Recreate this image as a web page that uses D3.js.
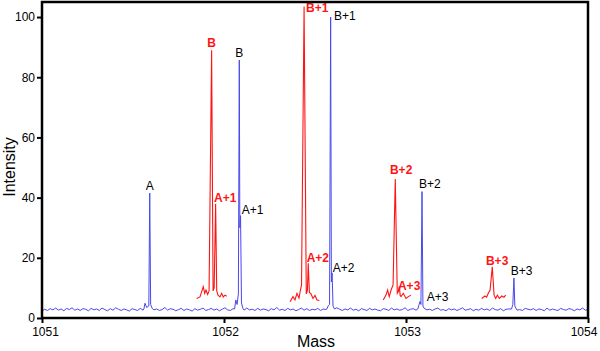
<!DOCTYPE html>
<html>
<head>
<meta charset="utf-8">
<script src="https://cdn.jsdelivr.net/npm/d3@7"></script>
<style>
  body { margin: 0; background: #fff; }
  svg { display: block; font-family: "Liberation Sans", Arial, sans-serif; }
</style>
</head>
<body>
<div id="chart"></div>
<script>
// blue trace: baseline noise, one value every 0.015 from 1051 to 1054
const noiseStart = 1051;
const noiseStep = 0.015;
const blueNoise = [
  2.3,2.9,2.5,3.1,2.7,3.3,2.6,3.0,2.4,3.2,
  2.8,3.4,2.6,3.0,2.5,3.1,2.9,2.4,3.2,2.7,
  3.0,2.5,3.3,2.8,2.4,3.1,2.6,3.4,2.9,2.5,
  3.0,2.7,2.3,3.1,2.8,2.5,3.2,2.6,2.9,2.4,
  3.3,2.7,3.0,2.5,2.8,3.5,2.6,3.1,2.9,2.4,
  2.8,3.2,2.5,3.0,2.7,2.3,3.1,2.6,2.9,3.3,
  2.5,2.8,3.2,2.6,3.0,2.4,2.9,3.4,2.7,2.5,
  3.1,2.8,2.4,3.0,2.6,3.3,2.7,2.9,2.5,3.2,
  2.6,3.0,2.8,2.4,3.1,2.7,3.5,2.6,2.9,2.5,
  3.2,2.7,3.0,2.4,2.8,3.3,2.6,3.1,2.5,2.9,
  2.7,3.2,2.5,3.0,2.8,2.4,3.1,2.6,3.4,2.9,
  2.5,3.0,2.7,3.3,2.6,2.9,2.4,3.1,2.8,2.5,
  3.2,2.7,3.0,2.6,2.4,3.1,2.9,2.5,3.3,2.7,
  3.0,2.6,2.8,3.4,2.5,2.9,3.1,2.6,2.8,2.4,
  3.2,2.7,2.9,2.5,3.0,3.3,2.6,2.8,2.4,3.1,
  2.7,3.0,2.5,2.9,3.4,2.6,2.8,3.1,2.4,2.9,
  2.6,3.2,2.7,3.0,2.5,3.3,2.8,2.6,3.1,2.4,
  2.9,3.0,2.7,3.4,2.6,2.8,2.5,3.2,2.9,2.7,
  3.1,2.5,3.0,2.8,2.4,3.3,2.6,3.0,2.7,2.5,
  3.2,2.8,2.6,3.1,2.9,2.4,3.0,2.7,3.3,2.6,
  2.8
];

// blue peaks [mass, intensity]
const bluePeakA = [[1051.560,3.0],[1051.566,4.9],[1051.575,3.5],[1051.587,4.0],[1051.592,41.5],[1051.597,4.5],[1051.605,3.2]];
const bluePeakB = [[1052.058,3.0],[1052.065,6.0],[1052.072,4.5],[1052.079,8.0],[1052.084,85.7],[1052.087,30],[1052.091,34],[1052.096,5.0],[1052.104,3.2]];
const bluePeakB1 = [[1052.565,3.0],[1052.574,4.2],[1052.580,4.5],[1052.586,100],[1052.590,12],[1052.594,15],[1052.599,4.0],[1052.607,3.0]];
const bluePeakB2 = [[1053.065,3.0],[1053.072,4.5],[1053.077,5.5],[1053.082,4.5],[1053.088,42],[1053.093,4.0],[1053.100,3.2]];
const bluePeakB3 = [[1053.580,3.0],[1053.587,4.5],[1053.593,13.3],[1053.598,4.0],[1053.606,3.0]];

// red trace: four short segments [mass, intensity]
const redSeg1 = [[1051.850,6.5],[1051.868,7],[1051.877,8.7],[1051.886,10.4],[1051.894,8.2],[1051.901,9.3],[1051.910,7.8],[1051.918,9],[1051.932,89],[1051.940,9],[1051.946,10],[1051.954,38],[1051.960,9],[1051.967,7.6],[1051.978,7],[1051.987,8.2],[1051.996,7],[1052.005,7.6],[1052.015,7.2]];
const redSeg2 = [[1052.363,5.4],[1052.379,7.1],[1052.390,6],[1052.401,8.2],[1052.412,6.6],[1052.420,9.3],[1052.426,11],[1052.440,103.5],[1052.452,8],[1052.458,9],[1052.463,18.2],[1052.469,8.5],[1052.478,8],[1052.489,6.5],[1052.500,7.5],[1052.511,6],[1052.524,5.8]];
const redSeg3 = [[1052.875,6],[1052.890,7.6],[1052.899,9.3],[1052.908,7.1],[1052.918,9.3],[1052.929,11],[1052.941,46.2],[1052.952,8.2],[1052.958,8.8],[1052.963,10.5],[1052.968,7.5],[1052.973,7.1],[1052.985,8.2],[1053.000,6.5],[1053.013,7.1],[1053.027,7.6]];
const redSeg4 = [[1053.416,6.5],[1053.434,7.3],[1053.443,6.9],[1053.452,8.2],[1053.462,9.3],[1053.474,17],[1053.484,7.6],[1053.493,6.5],[1053.502,7.6],[1053.513,6.5],[1053.526,7.3],[1053.538,6.9],[1053.548,7.6]];

// peak labels
const blueLabelNames = ["A","B","A+1","B+1","A+2","B+2","A+3","B+3"];
const blueLabelMass = [1051.592,1052.084,1052.091,1052.586,1052.594,1053.088,1053.077,1053.593];
const blueLabelHeight = [41.5,85.7,34,100,15,42,5.5,13.3];
const redLabelNames = ["B","A+1","B+1","A+2","B+2","A+3","B+3"];
const redLabelMass = [1051.932,1051.954,1052.440,1052.463,1052.941,1052.963,1053.474];
const redLabelHeight = [89,38,103.5,18.2,46.2,10.5,17];

const xTicks = [1051,1052,1053,1054];
const yTicks = [0,20,40,60,80,100];

// label nudges in px: [dx, dy, anchor]
const blueNudge = [[0,-3.6,"middle"],[0,-2.6,"middle"],[1.1,-1.2,"start"],[3.3,2.5,"start"],[0.6,-0.4,"start"],[-3,-4.1,"start"],[6.7,-0.9,"start"],[-3.2,-2.5,"start"]];
const redNudge = [[0,-2.7,"middle"],[-1.6,-2.1,"start"],[1.9,5,"start"],[-1.6,-1.7,"start"],[-5.3,-4.5,"start"],[-1.3,3.6,"start"],[-6.3,-2.3,"start"]];

const width = 600, height = 351;
const m = { left: 42, right: 588, top: 2, bottom: 318 };
const blue = "#4848ec", red = "#ff1414";

const x = d3.scaleLinear().domain([1051, 1054]).range([m.left, m.right]);
const y = d3.scaleLinear().domain([0, 105]).range([m.bottom, m.top]);

const svg = d3.select("#chart").append("svg")
  .attr("width", width)
  .attr("height", height);

// build blue trace: noise points, with peaks dropped in place
const bluePeaks = [bluePeakA, bluePeakB, bluePeakB1, bluePeakB2, bluePeakB3];
let bluePts = blueNoise.map((v, i) => [noiseStart + i * noiseStep, v]);
bluePeaks.forEach(p => {
  const lo = p[0][0], hi = p[p.length - 1][0];
  bluePts = bluePts.filter(d => d[0] < lo || d[0] > hi);
  bluePts = bluePts.concat(p);
});
bluePts.sort((a, b) => a[0] - b[0]);

const line = d3.line().x(d => x(d[0])).y(d => y(d[1]));

svg.append("path")
  .datum(bluePts)
  .attr("d", line)
  .attr("fill", "none")
  .attr("stroke", blue)
  .attr("stroke-width", 1);

[redSeg1, redSeg2, redSeg3, redSeg4].forEach(seg => {
  svg.append("path")
    .datum(seg)
    .attr("d", line)
    .attr("fill", "none")
    .attr("stroke", red)
    .attr("stroke-width", 1.1);
});

// labels
blueLabelNames.forEach((name, i) => {
  svg.append("text")
    .attr("x", x(blueLabelMass[i]) + blueNudge[i][0])
    .attr("y", y(blueLabelHeight[i]) + blueNudge[i][1])
    .attr("text-anchor", blueNudge[i][2])
    .attr("font-size", 12)
    .attr("fill", "#000")
    .text(name);
});
redLabelNames.forEach((name, i) => {
  svg.append("text")
    .attr("x", x(redLabelMass[i]) + redNudge[i][0])
    .attr("y", y(redLabelHeight[i]) + redNudge[i][1])
    .attr("text-anchor", redNudge[i][2])
    .attr("font-size", 12)
    .attr("font-weight", "bold")
    .attr("fill", red)
    .text(name);
});

// axes
const xAxis = svg.append("g")
  .attr("transform", `translate(0,${m.bottom})`)
  .call(d3.axisBottom(x).tickValues(xTicks).tickFormat(d3.format("d")).tickSize(5).tickPadding(4));
const yAxis = svg.append("g")
  .attr("transform", `translate(${m.left},0)`)
  .call(d3.axisLeft(y).tickValues(yTicks).tickSize(5).tickPadding(2));

[xAxis, yAxis].forEach(g => {
  g.select(".domain").remove();
  g.selectAll("line").attr("stroke", "#000").attr("stroke-width", 2);
  g.selectAll("text").attr("font-size", 12).attr("fill", "#000")
    .style("font-family", "'Liberation Sans', Arial, sans-serif");
});
// end labels pulled inward so they stay in the window
xAxis.selectAll(".tick text").attr("dx", d => d === 1051 ? 3 : d === 1054 ? -4.5 : 1);

// frame
svg.append("rect")
  .attr("x", m.left)
  .attr("y", m.top)
  .attr("width", m.right - m.left)
  .attr("height", m.bottom - m.top)
  .attr("fill", "none")
  .attr("stroke", "#000")
  .attr("stroke-width", 2.5);

svg.append("text")
  .attr("x", (m.left + m.right) / 2 + 1)
  .attr("y", 347)
  .attr("text-anchor", "middle")
  .attr("font-size", 16)
  .text("Mass");

svg.append("text")
  .attr("transform", `translate(15,167) rotate(-90)`)
  .attr("text-anchor", "middle")
  .attr("font-size", 16)
  .text("Intensity");
</script>
</body>
</html>
